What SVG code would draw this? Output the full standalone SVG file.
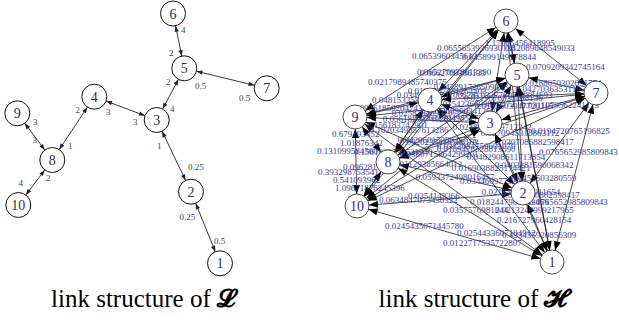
<svg xmlns="http://www.w3.org/2000/svg" width="619" height="320" viewBox="0 0 619 320">
<style>
.ln{stroke:#222;stroke-width:0.9;fill:none;marker-start:url(#la);marker-end:url(#la)}
.rn{stroke:#000;stroke-width:0.7;fill:none;marker-start:url(#ra);marker-end:url(#ra)}
.lc{fill:#fff;stroke:#111;stroke-width:1}
.rc{fill:#fff;stroke:#222;stroke-width:0.8}
.lt{font-family:"Liberation Serif",serif;font-size:14px;fill:#333;text-anchor:middle}
.rt{font-family:"Liberation Serif",serif;font-size:14px;fill:#2e3192;text-anchor:middle}
.ll{font-family:"Liberation Serif",serif;font-size:9px;fill:#444}
.el{font-family:"Liberation Serif",serif;font-size:9px;fill:#3a3d9c}
.em{font-family:"Liberation Serif",serif;font-size:9px;fill:#3a3d9c;text-anchor:middle}
.cap{font-family:"Liberation Serif",serif;font-size:25px;fill:#000;text-anchor:middle}
.scr{font-family:"DejaVu Serif","DejaVu Sans",serif;font-weight:bold}
</style>
<defs>
<marker id="la" markerUnits="userSpaceOnUse" markerWidth="6" markerHeight="5" refX="18.5" refY="2.2" orient="auto-start-reverse" overflow="visible"><path d="M0,0 L6,2.2 L0,4.4 Z" fill="#222"/></marker>
<marker id="ra" markerUnits="userSpaceOnUse" markerWidth="9" markerHeight="7" refX="21" refY="3.5" orient="auto-start-reverse" overflow="visible"><path d="M0,0 L9,3.5 L0,7 Z" fill="#000"/></marker>
</defs>
<g id="left-connectors">
<line class="ln" x1="173" y1="13.5" x2="184.3" y2="68.3"/>
<line class="ln" x1="184.3" y1="68.3" x2="266.7" y2="88.3"/>
<line class="ln" x1="184.3" y1="68.3" x2="156.7" y2="120"/>
<line class="ln" x1="94.3" y1="96.7" x2="156.7" y2="120"/>
<line class="ln" x1="94.3" y1="96.7" x2="52.3" y2="160"/>
<line class="ln" x1="17.3" y1="113.3" x2="52.3" y2="160"/>
<line class="ln" x1="52.3" y1="160" x2="18.3" y2="205"/>
<line class="ln" x1="156.7" y1="120" x2="191" y2="191.7"/>
<line class="ln" x1="191" y1="191.7" x2="220" y2="263.3"/>
</g>
<g id="left-labels">
<text class="ll" x="181" y="33">4</text>
<text class="ll" x="169" y="56">2</text>
<text class="ll" x="166" y="85">2</text>
<text class="ll" x="170" y="112">4</text>
<text class="ll" x="195" y="89">0.5</text>
<text class="ll" x="239" y="101">0.5</text>
<text class="ll" x="75.5" y="113">2</text>
<text class="ll" x="106" y="115">3</text>
<text class="ll" x="133" y="125">3</text>
<text class="ll" x="33" y="125">3</text>
<text class="ll" x="32.5" y="143">3</text>
<text class="ll" x="68" y="149">1</text>
<text class="ll" x="157" y="149">1</text>
<text class="ll" x="188" y="170">0.25</text>
<text class="ll" x="179.5" y="220">0.25</text>
<text class="ll" x="214" y="244">0.5</text>
<text class="ll" x="18.5" y="186">4</text>
<text class="ll" x="46" y="181">2</text>
</g>
<g id="L1"><circle class="lc" cx="220" cy="263.3" r="12.5"/><text class="lt" x="220" y="268.3">1</text></g>
<g id="L2"><circle class="lc" cx="191" cy="191.7" r="12.5"/><text class="lt" x="191" y="196.7">2</text></g>
<g id="L3"><circle class="lc" cx="156.7" cy="120" r="12.5"/><text class="lt" x="156.7" y="125">3</text></g>
<g id="L4"><circle class="lc" cx="94.3" cy="96.7" r="12.5"/><text class="lt" x="94.3" y="101.7">4</text></g>
<g id="L5"><circle class="lc" cx="184.3" cy="68.3" r="12.5"/><text class="lt" x="184.3" y="73.3">5</text></g>
<g id="L6"><circle class="lc" cx="173" cy="13.5" r="12.5"/><text class="lt" x="173" y="18.5">6</text></g>
<g id="L7"><circle class="lc" cx="266.7" cy="88.3" r="12.5"/><text class="lt" x="266.7" y="93.3">7</text></g>
<g id="L8"><circle class="lc" cx="52.3" cy="160" r="12.5"/><text class="lt" x="52.3" y="165">8</text></g>
<g id="L9"><circle class="lc" cx="17.3" cy="113.3" r="12.5"/><text class="lt" x="17.3" y="118.3">9</text></g>
<g id="L10"><circle class="lc" cx="18.3" cy="205" r="12.5"/><text class="lt" x="18.3" y="210">10</text></g>

<g id="right-connectors">
<line class="rn" x1="552" y1="262" x2="523" y2="193"/>
<line class="rn" x1="552" y1="262" x2="490" y2="123"/>
<line class="rn" x1="552" y1="262" x2="430" y2="100"/>
<line class="rn" x1="552" y1="262" x2="517" y2="75"/>
<line class="rn" x1="552" y1="262" x2="506" y2="21"/>
<line class="rn" x1="552" y1="262" x2="596" y2="93"/>
<line class="rn" x1="552" y1="262" x2="388" y2="162"/>
<line class="rn" x1="552" y1="262" x2="355" y2="117"/>
<line class="rn" x1="552" y1="262" x2="357" y2="206"/>
<line class="rn" x1="523" y1="193" x2="490" y2="123"/>
<line class="rn" x1="523" y1="193" x2="430" y2="100"/>
<line class="rn" x1="523" y1="193" x2="517" y2="75"/>
<line class="rn" x1="523" y1="193" x2="506" y2="21"/>
<line class="rn" x1="523" y1="193" x2="596" y2="93"/>
<line class="rn" x1="523" y1="193" x2="388" y2="162"/>
<line class="rn" x1="523" y1="193" x2="355" y2="117"/>
<line class="rn" x1="523" y1="193" x2="357" y2="206"/>
<line class="rn" x1="490" y1="123" x2="430" y2="100"/>
<line class="rn" x1="490" y1="123" x2="517" y2="75"/>
<line class="rn" x1="490" y1="123" x2="506" y2="21"/>
<line class="rn" x1="490" y1="123" x2="596" y2="93"/>
<line class="rn" x1="490" y1="123" x2="388" y2="162"/>
<line class="rn" x1="490" y1="123" x2="355" y2="117"/>
<line class="rn" x1="490" y1="123" x2="357" y2="206"/>
<line class="rn" x1="430" y1="100" x2="517" y2="75"/>
<line class="rn" x1="430" y1="100" x2="506" y2="21"/>
<line class="rn" x1="430" y1="100" x2="596" y2="93"/>
<line class="rn" x1="430" y1="100" x2="388" y2="162"/>
<line class="rn" x1="430" y1="100" x2="355" y2="117"/>
<line class="rn" x1="430" y1="100" x2="357" y2="206"/>
<line class="rn" x1="517" y1="75" x2="506" y2="21"/>
<line class="rn" x1="517" y1="75" x2="596" y2="93"/>
<line class="rn" x1="517" y1="75" x2="388" y2="162"/>
<line class="rn" x1="517" y1="75" x2="355" y2="117"/>
<line class="rn" x1="517" y1="75" x2="357" y2="206"/>
<line class="rn" x1="506" y1="21" x2="596" y2="93"/>
<line class="rn" x1="506" y1="21" x2="388" y2="162"/>
<line class="rn" x1="506" y1="21" x2="355" y2="117"/>
<line class="rn" x1="506" y1="21" x2="357" y2="206"/>
<line class="rn" x1="596" y1="93" x2="388" y2="162"/>
<line class="rn" x1="596" y1="93" x2="355" y2="117"/>
<line class="rn" x1="596" y1="93" x2="357" y2="206"/>
<line class="rn" x1="388" y1="162" x2="355" y2="117"/>
<line class="rn" x1="388" y1="162" x2="357" y2="206"/>
<line class="rn" x1="355" y1="117" x2="357" y2="206"/>
</g>
<g id="right-labels">
<text class="el" x="485" y="46">1.17005456418995</text>
<text class="el" x="437" y="51">0.0655653936930138</text>
<text class="el" x="505" y="51">0.12089648549033</text>
<text class="el" x="412" y="59">0.0653960345613</text>
<text class="el" x="462" y="60">0.045899149178844</text>
<text class="el" x="526" y="70">0.0709209342745164</text>
<text class="el" x="417" y="75">0.065270938613390</text>
<text class="el" x="420" y="76">0.0662709386133</text>
<text class="el" x="368" y="85">0.0217989485740375</text>
<text class="el" x="372" y="103">0.0481532556</text>
<text class="el" x="367" y="128">0.156183742901</text>
<text class="el" x="332" y="137">0.679193452</text>
<text class="el" x="340" y="146">1.01876342</text>
<text class="el" x="317" y="154">0.131099584500</text>
<text class="el" x="343" y="170">0.0962817</text>
<text class="el" x="318" y="175">0.393298753541</text>
<text class="el" x="333" y="183">0.541093962</text>
<text class="el" x="335" y="191">1.09671876245396</text>
<text class="el" x="379" y="203">0.0634847073438322</text>
<text class="el" x="408" y="199">0.0254143366</text>
<text class="el" x="385" y="229">0.0245435071445780</text>
<text class="el" x="457" y="236">0.0254433607104912</text>
<text class="el" x="443" y="246">0.0122717535722807</text>
<text class="el" x="443" y="213">0.0357576981244</text>
<text class="el" x="497" y="223">0.216727960428154</text>
<text class="el" x="502" y="238">0.433455920856309</text>
<text class="el" x="470" y="205">0.0182447961749469</text>
<text class="el" x="495" y="213">0.0213249999217965</text>
<text class="el" x="501" y="198">0.0709860882598417</text>
<text class="el" x="529" y="205">0.0765652985809843</text>
<text class="el" x="495" y="145">0.0307086882598417</text>
<text class="el" x="531" y="134">0.0194720765196825</text>
<text class="el" x="539" y="155">0.0765652985809843</text>
<text class="el" x="460" y="184">0.0344609775209</text>
<text class="el" x="511" y="181">0.0453503280559</text>
<text class="em" x="460" y="114">0.0572683903412697</text>
<text class="em" x="503" y="101">0.0219876530498136</text>
<text class="em" x="473" y="90">0.0438917265093381</text>
<text class="em" x="513" y="98">0.0327760512884693</text>
<text class="em" x="560" y="108">0.0311079562241173</text>
<text class="em" x="562" y="86">0.0288050302651774</text>
<text class="em" x="452" y="121">0.0763120498527361</text>
<text class="em" x="436" y="98">0.0349812574106628</text>
<text class="em" x="475" y="107">0.0154236603819472</text>
<text class="em" x="492" y="130">0.0248861039712242</text>
<text class="em" x="439" y="145">0.0920235416788103</text>
<text class="em" x="422" y="122">0.0561829374028115</text>
<text class="em" x="409" y="133">0.1020349857613286</text>
<text class="em" x="392" y="111">0.0936185020474361</text>
<text class="em" x="506" y="160">0.0462908611713854</text>
<text class="em" x="476" y="149">0.0312084759601070</text>
<text class="em" x="520" y="136">0.0270945318863112</text>
<text class="em" x="514" y="109">0.0185603947720115</text>
<text class="em" x="455" y="180">0.0593372498016477</text>
<text class="em" x="439" y="157">0.0380715864299201</text>
<text class="em" x="423" y="167">0.0701129385664012</text>
<text class="em" x="393" y="155">0.1561829730521940</text>
<text class="em" x="437" y="143">0.0429601538827735</text>
<text class="em" x="431" y="116">0.0258164093107726</text>
<text class="em" x="476" y="152">0.0109476528813690</text>
<text class="em" x="521" y="195">0.0218402765011654</text>
<text class="em" x="491" y="171">0.0169038825174421</text>
<text class="em" x="447" y="94">0.0195507381264403</text>
<text class="em" x="534" y="168">0.0403281590068342</text>
<text class="em" x="555" y="92">0.0427036353110796</text>
</g>
<g id="H1"><circle class="rc" cx="552" cy="262" r="12"/><text class="rt" x="552" y="267">1</text></g>
<g id="H2"><circle class="rc" cx="523" cy="193" r="12"/><text class="rt" x="523" y="198">2</text></g>
<g id="H3"><circle class="rc" cx="490" cy="123" r="12"/><text class="rt" x="490" y="128">3</text></g>
<g id="H4"><circle class="rc" cx="430" cy="100" r="12"/><text class="rt" x="430" y="105">4</text></g>
<g id="H5"><circle class="rc" cx="517" cy="75" r="12"/><text class="rt" x="517" y="80">5</text></g>
<g id="H6"><circle class="rc" cx="506" cy="21" r="12"/><text class="rt" x="506" y="26">6</text></g>
<g id="H7"><circle class="rc" cx="596" cy="93" r="12"/><text class="rt" x="596" y="98">7</text></g>
<g id="H8"><circle class="rc" cx="388" cy="162" r="12"/><text class="rt" x="388" y="167">8</text></g>
<g id="H9"><circle class="rc" cx="355" cy="117" r="12"/><text class="rt" x="355" y="122">9</text></g>
<g id="H10"><circle class="rc" cx="357" cy="206" r="12"/><text class="rt" x="357" y="211">10</text></g>

<text class="cap" x="143" y="307">link structure of <tspan class="scr">𝓛</tspan></text>
<text class="cap" x="473" y="307">link structure of <tspan class="scr">𝓗</tspan></text>
</svg>
